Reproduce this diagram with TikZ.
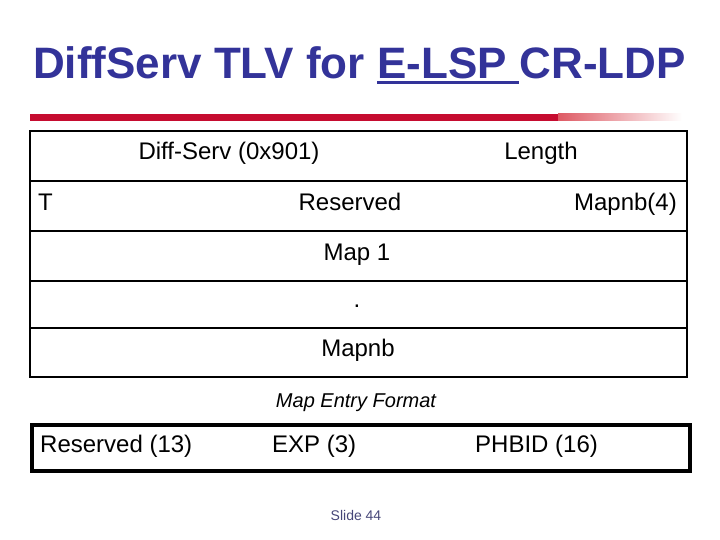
\documentclass[tikz,border=0pt]{standalone}
\usepackage{fontspec}
\setmainfont{Liberation Sans}[Ligatures=NoCommon]
\usetikzlibrary{positioning}

\definecolor{titleblue}{RGB}{51,51,153}
\definecolor{barred}{RGB}{198,12,48}
\definecolor{fadered}{RGB}{222,90,100}
\definecolor{slidegrey}{RGB}{70,70,120}

\begin{document}
\begin{tikzpicture}[x=1pt,y=-1pt,
	titletext/.style={font=\fontsize{44}{50}\selectfont\bfseries, text=titleblue, inner sep=0pt},
	field/.style={font=\fontsize{24}{28}\selectfont, inner sep=0pt},
	caption/.style={font=\fontsize{20}{24}\selectfont\itshape, inner sep=0pt},
	outerline/.style={line width=2.6pt},
	innerline/.style={line width=1.8pt}]

\useasboundingbox (0,0) rectangle (720,540);

\def\boxl{30}
\def\boxr{687}
\def\boxt{131}
\def\boxb{377}

% title
\node[titletext, anchor=base west] (tfor) at (33,79) {DiffServ TLV for\ \mbox{}};
\node[titletext, anchor=base west] (tlsp) at (tfor.base east) {E-LSP\ \mbox{}};
\node[titletext, anchor=base west] (tldp) at (tlsp.base east) {CR-LDP};
\draw [titleblue, line width=3pt] ([yshift=-4pt]tlsp.base west) -- ([yshift=-4pt]tlsp.base east);

% red bar
\fill [barred] (30,114) rectangle (558,121);
\shade [left color=fadered, right color=white] (558,114) rectangle (682,121);

% TLV box
\draw [outerline] (\boxl,\boxt) rectangle (\boxr,\boxb);
\foreach \y in {181,231,281,328}
	\draw [innerline] (\boxl,\y) -- (\boxr,\y);

\node[field, anchor=base] (type) at (229,160) {Diff-Serv (0x901)};
\node[field, anchor=base] (len) at (541,160) {Length};

\node[field, anchor=base west] (tbit) at (38,211) {T};
\node[field, anchor=base] (resv) at (350,211) {Reserved};
\node[field, anchor=base east] (mapnbf) at (677,211) {Mapnb(4)};

\node[field, anchor=base] (map1) at (357,260) {Map 1};
\node[field, anchor=base] (dots) at (357,307) {.};
\node[field, anchor=base] (mapnb) at (358,356) {Mapnb};

% map entry
\node[caption, anchor=base] (fmt) at (356,407) {Map Entry Format};

\draw [line width=3.2pt] (32,425) rectangle (690,471);
\node[field, anchor=base west] (eresv) at (40,452) {Reserved (13)};
\node[field, anchor=base west] (eexp) at (272,452) {EXP (3)};
\node[field, anchor=base west] (ephb) at (475,452) {PHBID (16)};

\node[font=\fontsize{14}{16}\selectfont, text=slidegrey, inner sep=0pt, anchor=base] (slide) at (356,520) {Slide 44};

\end{tikzpicture}
\end{document}
